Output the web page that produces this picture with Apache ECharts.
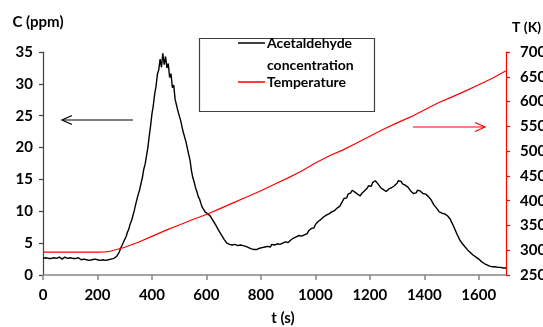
<!DOCTYPE html>
<html>
<head>
<meta charset="utf-8">
<script src="https://cdn.jsdelivr.net/npm/echarts@6/dist/echarts.min.js"></script>
<style>
  html, body { margin: 0; padding: 0; background: #fff; }
  #chart { width: 543px; height: 327px; }
</style>
</head>
<body>
<div id="chart"></div>
<script>
// Acetaldehyde concentration (ppm), one reading every 5 s from 0 to 1700 s
const concTimeStep = 5;
const concentration = [
  2.6, 2.4, 2.7, 2.5, 2.6, 2.3, 2.6, 2.5, 2.7, 2.4,
  2.6, 2.5, 2.8, 2.6, 2.5, 2.7, 2.8, 2.5, 2.6, 2.5,
  2.7, 2.5, 2.6, 2.4, 2.6, 2.5, 2.7, 2.5, 2.4, 2.6,
  2.5, 2.6, 2.4, 2.5, 2.3, 2.5, 2.4, 2.3, 2.5, 2.2,
  2.4, 2.2, 2.3, 2.1, 2.4, 2.2, 2.3, 2.2, 2.4, 2.3,
  2.5, 2.4, 2.6, 2.7, 2.9, 3.2, 3.6, 4.2, 4.5, 5.1,
  5.6, 6.0, 6.7, 7.2, 8.0, 8.5, 9.3, 10.1, 11.0, 11.9,
  12.7, 13.4, 14.4, 15.3, 16.6, 17.4, 18.7, 20.0, 21.8, 23.4,
  25.3, 26.6, 28.4, 29.6, 31.5, 32.2, 33.9, 32.6, 34.8, 33.0,
  34.3, 32.5, 33.2, 31.0, 31.6, 29.4, 29.8, 27.6, 27.9, 25.8,
  26.0, 24.3, 24.0, 22.4, 22.3, 20.9, 20.6, 18.9, 18.0, 16.4,
  15.3, 14.6, 13.7, 13.1, 12.3, 11.9, 11.2, 10.6, 10.3, 9.9,
  10.0, 9.6, 9.7, 9.2, 9.0, 8.5, 8.2, 7.8, 7.5, 7.0,
  6.8, 6.3, 6.0, 5.6, 5.3, 5.0, 5.1, 4.8, 4.9, 4.7,
  5.0, 4.8, 4.9, 4.6, 4.9, 4.7, 4.8, 4.6, 4.8, 4.5,
  4.5, 4.3, 4.4, 4.1, 4.2, 4.0, 4.2, 4.0, 4.3, 4.2,
  4.4, 4.3, 4.5, 4.4, 4.7, 4.5, 4.6, 4.4, 4.8, 4.6,
  4.7, 4.5, 4.9, 4.7, 4.8, 4.6, 5.0, 4.9, 5.2, 5.0,
  5.1, 5.3, 5.5, 5.4, 5.8, 5.7, 6.0, 5.8, 6.2, 6.0,
  6.1, 6.4, 6.3, 6.6, 6.5, 6.9, 7.0, 7.3, 7.5, 7.4,
  7.9, 8.1, 8.4, 8.3, 8.7, 8.6, 9.1, 9.0, 9.4, 9.2,
  9.6, 9.5, 9.9, 9.7, 10.1, 9.9, 10.5, 10.4, 10.8, 11.2,
  11.6, 12.0, 12.3, 12.1, 12.7, 12.5, 12.9, 13.3, 13.4, 13.0,
  13.1, 12.7, 12.6, 12.4, 12.8, 12.9, 13.2, 13.4, 13.6, 14.0,
  14.1, 13.9, 14.5, 14.3, 14.8, 15.0, 14.3, 14.0, 13.7, 13.9,
  13.4, 13.2, 13.1, 13.4, 13.5, 13.3, 13.7, 13.6, 14.0, 14.3,
  14.4, 14.8, 14.5, 14.7, 14.3, 14.5, 14.1, 14.2, 13.8, 13.6,
  13.2, 12.9, 12.8, 12.5, 12.9, 13.3, 13.4, 13.2, 13.1, 12.8,
  12.9, 12.7, 12.6, 12.3, 12.0, 11.8, 11.4, 11.0, 10.7, 10.5,
  10.2, 9.9, 9.9, 9.7, 9.8, 9.6, 9.6, 9.3, 9.1, 8.8,
  8.3, 7.9, 7.4, 6.9, 6.4, 6.0, 5.5, 5.2, 4.9, 4.6,
  4.4, 4.1, 3.9, 3.7, 3.5, 3.3, 3.1, 2.9, 2.8, 2.6,
  2.5, 2.3, 2.1, 1.9, 1.8, 1.7, 1.6, 1.5, 1.4, 1.4,
  1.3, 1.2, 1.3, 1.2, 1.2, 1.1, 1.2, 1.1, 1.1, 1.0,
  1.1
];

// Temperature (K) against time (s)
const tempTimes = [0, 50, 100, 150, 200, 230, 250, 300, 350, 400, 450, 500, 550, 600, 650, 700, 750, 800, 850,
  900, 950, 1000, 1050, 1100, 1150, 1200, 1250, 1300, 1350, 1400, 1450, 1500, 1550, 1600, 1650, 1700];
const temperature = [296, 296, 296, 296, 296, 296.5, 298.5, 306, 316, 328, 340, 351, 362, 372, 384, 396, 408, 420, 433,
  446, 460, 476, 490, 502, 516, 530, 544, 557, 569, 583, 597, 609, 621, 634, 647, 662];

const seriesNames = ['Acetaldehyde concentration', 'Temperature'];
const xTitle = 't (s)';
const leftTitle = 'C (ppm)';
const rightTitle = 'T (K)';

const FONT = 'Lato';
const BLACK = 'rgb(0,0,0)';
const boldText = { color: BLACK, fontFamily: FONT, fontWeight: 'bold', fontSize: 15 };
const tickLabel = (margin, extra) => Object.assign({ margin }, boldText, extra || {});

const concData = concentration.map((c, i) => [i * concTimeStep, c]);
const tempData = tempTimes.map((t, i) => [t, temperature[i]]);

// temperature scale: one axis draws the red line and ticks, a twin draws the black labels
const tempScale = { type: 'value', min: 250, max: 700, interval: 50, position: 'right', offset: 0 };

const chart = echarts.init(document.getElementById('chart'), null, { renderer: 'canvas' });

chart.setOption({
  animation: false,
  backgroundColor: '#fff',
  grid: { left: 43, right: 37, top: 52, bottom: 52, outerBoundsMode: 'none', containLabel: false },
  xAxis: {
    type: 'value', min: 0, max: 1700, interval: 200,
    name: xTitle, nameLocation: 'middle', nameGap: 36,
    nameTextStyle: { color: BLACK, fontFamily: FONT, fontWeight: 'bold', fontSize: 15, padding: [0, 0, 0, 17] },
    axisLine: { show: true, lineStyle: { color: '#868686', width: 1.5 } },
    axisTick: { show: true, inside: false, length: 5, lineStyle: { color: '#868686', width: 1.5 } },
    axisLabel: tickLabel(13, { showMaxLabel: false, formatter: v => String(v) }),
    splitLine: { show: false }
  },
  yAxis: [
    {
      type: 'value', min: 0, max: 35, interval: 5, position: 'left',
      name: leftTitle, nameLocation: 'end', nameGap: 22,
      nameTextStyle: { color: BLACK, fontFamily: FONT, fontWeight: 'bold', fontSize: 15, align: 'center', padding: [0, 10, 0, 0] },
      axisLine: { show: true, lineStyle: { color: '#404040', width: 1.2 } },
      axisTick: { show: true, inside: false, length: 4, lineStyle: { color: '#404040', width: 1.2 } },
      axisLabel: tickLabel(10),
      splitLine: { show: false }
    },
    Object.assign({}, tempScale, {
      name: rightTitle, nameLocation: 'end', nameGap: 18,
      nameTextStyle: { color: BLACK, fontFamily: FONT, fontWeight: 'bold', fontSize: 14, align: 'left', padding: [0, 0, 0, 6] },
      axisLine: { show: true, lineStyle: { color: '#ff0000', width: 1.2 } },
      axisTick: { show: true, inside: false, length: 4, lineStyle: { color: '#ff0000', width: 1.2 } },
      axisLabel: { show: false, color: 'rgba(0,0,0,0)', formatter: () => '' },
      splitLine: { show: false }
    }),
    Object.assign({}, tempScale, {
      axisLine: { show: false, lineStyle: { color: BLACK } },
      axisTick: { show: false },
      axisLabel: tickLabel(14, { formatter: v => String(v) }),
      splitLine: { show: false }
    })
  ],
  legend: [
    {
      data: [seriesNames[0]], left: 238, top: 36, padding: 0,
      icon: 'rect', itemWidth: 27, itemHeight: 1.5,
      formatter: () => 'Acetaldehyde',
      textStyle: { color: BLACK, fontFamily: FONT, fontWeight: 'bold', fontSize: 14, padding: [0, 0, 0, -3] }
    },
    {
      data: [seriesNames[1]], left: 238, top: 75, padding: 0,
      icon: 'rect', itemWidth: 27, itemHeight: 1.5,
      textStyle: { color: BLACK, fontFamily: FONT, fontWeight: 'bold', fontSize: 14, padding: [0, 0, 0, -3] }
    }
  ],
  graphic: [
    // legend frame
    { type: 'rect', left: 197, top: 36, shape: { width: 175, height: 73 },
      style: { fill: 'none', stroke: '#404040', lineWidth: 1.2 } },
    { type: 'text', left: 267, top: 58,
      style: { text: 'concentration', fill: BLACK, font: 'bold 14px Lato' } },
    // arrow pointing to the concentration axis
    { type: 'line', shape: { x1: 62, y1: 120, x2: 133, y2: 120 }, style: { stroke: '#000', lineWidth: 1.2 } },
    { type: 'polyline', shape: { points: [[72, 115.5], [62, 120], [72, 124.5]] }, style: { stroke: '#000', fill: 'none', lineWidth: 1.2 } },
    // arrow pointing to the temperature axis
    { type: 'line', shape: { x1: 413, y1: 127, x2: 485, y2: 127 }, style: { stroke: '#ff0000', lineWidth: 1.2 } },
    { type: 'polyline', shape: { points: [[475, 122.5], [485, 127], [475, 131.5]] }, style: { stroke: '#ff0000', fill: 'none', lineWidth: 1.2 } }
  ],
  series: [
    {
      name: seriesNames[0], type: 'line', yAxisIndex: 0, data: concData,
      showSymbol: false, symbol: 'none', color: '#000',
      lineStyle: { color: '#000', width: 1.4 }
    },
    {
      name: seriesNames[1], type: 'line', yAxisIndex: 1, data: tempData,
      showSymbol: false, symbol: 'none', color: '#ff0000',
      lineStyle: { color: '#ff0000', width: 1.2 }
    }
  ]
});
</script>
</body>
</html>
